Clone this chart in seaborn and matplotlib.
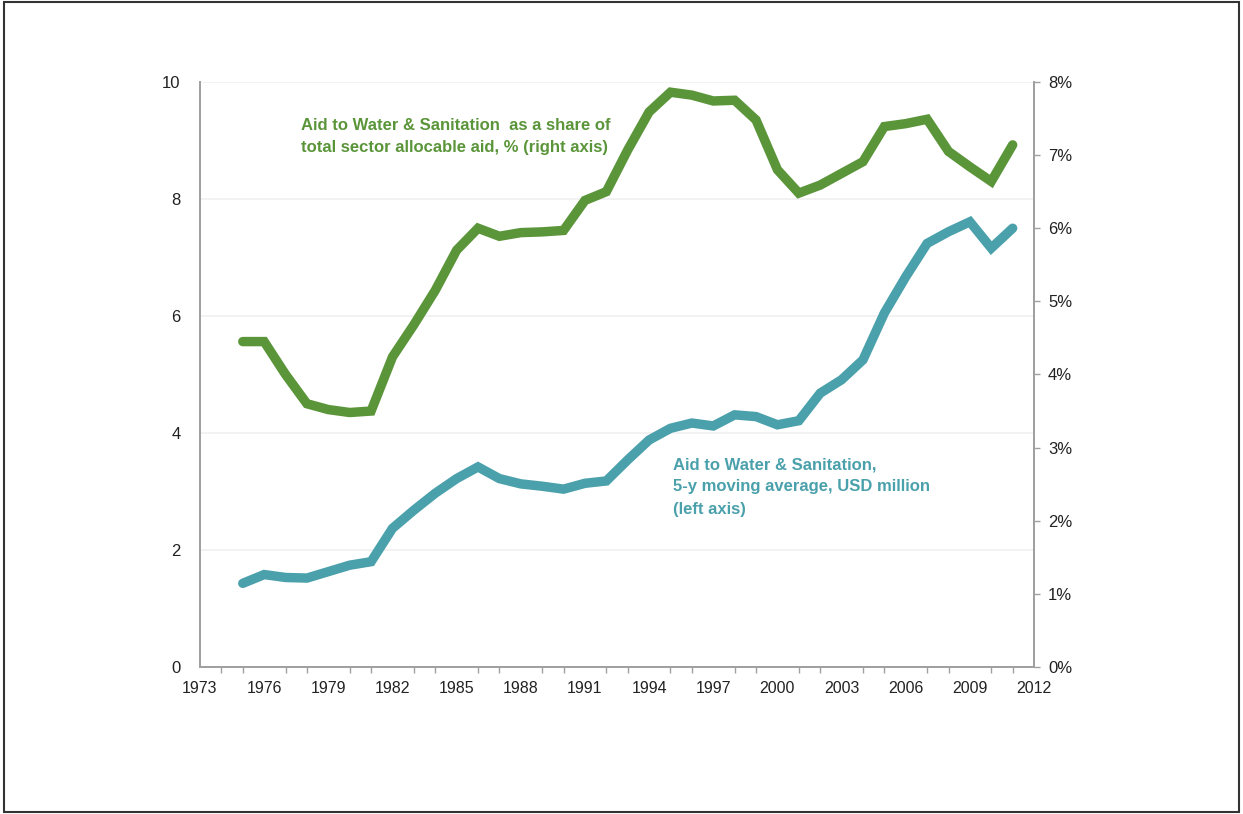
import matplotlib.pyplot as plt
import seaborn as sns
import pandas as pd
from matplotlib.patches import Rectangle
from matplotlib.ticker import MultipleLocator, FuncFormatter

sns.set_theme(style="white")
plt.rcParams['font.family'] = ['Liberation Sans', 'DejaVu Sans']

# data
years = list(range(1975, 2012))
share_pct = [4.45, 4.45, 4.00, 3.60, 3.52, 3.48, 3.50, 4.24, 4.68, 5.15,
             5.70, 6.00, 5.89, 5.94, 5.95, 5.97, 6.38, 6.50, 7.07, 7.59,
             7.86, 7.82, 7.74, 7.75, 7.48, 6.80, 6.48, 6.59, 6.75, 6.91,
             7.39, 7.43, 7.49, 7.05, 6.84, 6.64, 7.14]
aid_usd = [1.43, 1.58, 1.53, 1.52, 1.63, 1.74, 1.80, 2.37, 2.68, 2.97,
           3.22, 3.42, 3.22, 3.13, 3.09, 3.04, 3.14, 3.18, 3.54, 3.88,
           4.08, 4.17, 4.12, 4.31, 4.28, 4.14, 4.21, 4.68, 4.91, 5.25,
           6.05, 6.67, 7.24, 7.44, 7.61, 7.16, 7.50]

green = "#5b953a"
teal = "#4aa0ab"
axis_grey = "#a0a0a0"

df = pd.DataFrame({"year": years, "share": share_pct, "aid": aid_usd})

fig = plt.figure(figsize=(12.43, 8.14), dpi=100)
ax = fig.add_axes([0.1609, 0.1806, 0.6710, 0.7187])
ax2 = ax.twinx()

sns.lineplot(data=df, x="year", y="aid", ax=ax, color=teal, linewidth=6.8,
             solid_joinstyle="miter")
sns.lineplot(data=df, x="year", y="share", ax=ax2, color=green, linewidth=6.8,
             solid_joinstyle="miter")

ax.set_xlim(1973, 2012)
ax.set_ylim(0, 10)
ax2.set_ylim(0, 8)
ax.set_xticks(range(1973, 2013, 3))
ax.xaxis.set_minor_locator(MultipleLocator(1))
ax.set_yticks(range(0, 11, 2))
ax2.set_yticks(range(0, 9, 1))
ax2.yaxis.set_major_formatter(FuncFormatter(lambda v, p: f"{int(v)}%"))

ax.set_xlabel("")
ax.set_ylabel("")
ax2.set_ylabel("")

for y in range(2, 11, 2):
    ax.axhline(y, color="#f0f0f0", linewidth=1.2, zorder=0)

for a in (ax, ax2):
    a.spines["top"].set_visible(False)
    for s in ("left", "right", "bottom"):
        a.spines[s].set_color(axis_grey)
        a.spines[s].set_linewidth(1.3)

ax.tick_params(axis="x", which="major", direction="out", length=5, width=1,
               color=axis_grey, labelsize=11.5, labelcolor="#222222", pad=5)
ax.tick_params(axis="x", which="minor", direction="out", length=4, width=1,
               color=axis_grey, bottom=True)
ax.tick_params(axis="y", length=0, labelsize=12, labelcolor="#222222", pad=14)
ax2.tick_params(axis="y", direction="out", length=4, width=1, color=axis_grey,
                labelsize=12, labelcolor="#222222", pad=6)

ax.text(1977.7, 9.07, "Aid to Water & Sanitation  as a share of\ntotal sector allocable aid, % (right axis)",
        color=green, fontsize=12, fontweight="bold", va="center", ha="left",
        linespacing=1.6)
ax.text(1995.1, 3.08, "Aid to Water & Sanitation,\n5-y moving average, USD million\n(left axis)",
        color=teal, fontsize=12, fontweight="bold", va="center", ha="left",
        linespacing=1.6)

fig.patches.append(Rectangle((0.003, 0.003), 0.994, 0.994, transform=fig.transFigure,
                             fill=False, edgecolor="#333333", linewidth=1.5))

fig.savefig("out.png", dpi=100)
